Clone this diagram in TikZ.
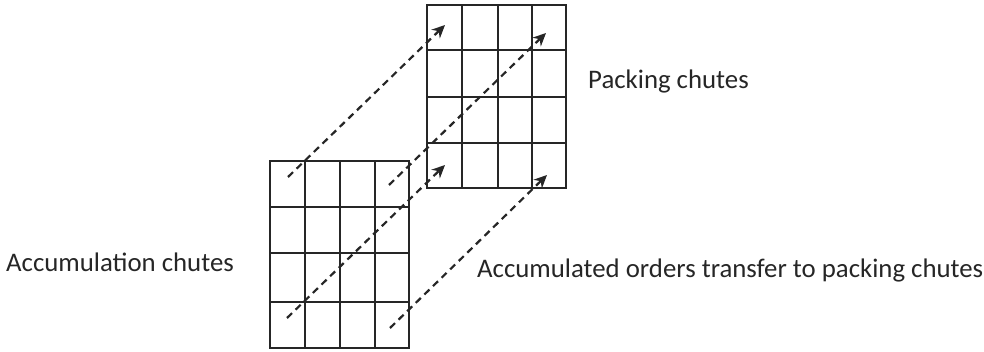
\documentclass[tikz,border=0pt]{standalone}
\usepackage{fontspec}
\setmainfont{Carlito}
\usetikzlibrary{arrows.meta}
\tikzset{
  gridline/.style={line width=2.6pt, black!85, line cap=rect},
  transfer/.style={line width=2.2pt, black!85, dash pattern=on 7pt off 5pt, -{Stealth[length=13pt,width=12pt]}},
  lbl/.style={font=\fontsize{26.8}{30}\selectfont, inner sep=0pt, text=black!85}
}
\begin{document}
\begin{tikzpicture}[x=1pt,y=-1pt]
\useasboundingbox (0,0) rectangle (984,352);
% lower grid (accumulation chutes)
\foreach \x in {270,305,340,375,409} \draw[gridline] (\x,161) -- (\x,348);
\foreach \y in {161,207,253,302,348} \draw[gridline] (270,\y) -- (409,\y);
% upper grid (packing chutes)
\foreach \x in {427,462,498,532,566} \draw[gridline] (\x,5) -- (\x,188);
\foreach \y in {5,50,97,143,188} \draw[gridline] (427,\y) -- (566,\y);
% arrow end points
\coordinate (s1) at (288,177);
\coordinate (e1) at (445,25);
\coordinate (s2) at (389,185);
\coordinate (e2) at (546,33);
\coordinate (s3) at (287,318);
\coordinate (e3) at (445,165);
\coordinate (s4) at (390,328);
\coordinate (e4) at (547,175);
\draw[transfer] (s1) -- (e1);
\draw[transfer] (s2) -- (e2);
\draw[transfer] (s3) -- (e3);
\draw[transfer] (s4) -- (e4);
% labels
\node[lbl, anchor=west] (acc) at (6,262) {Accumulation chutes};
\node[lbl, anchor=west] (pack) at (588,82) {Packing chutes};
\node[lbl, anchor=west] (trans) at (477,270) {Accumulated orders transfer to packing\ chutes};
\end{tikzpicture}
\end{document}
